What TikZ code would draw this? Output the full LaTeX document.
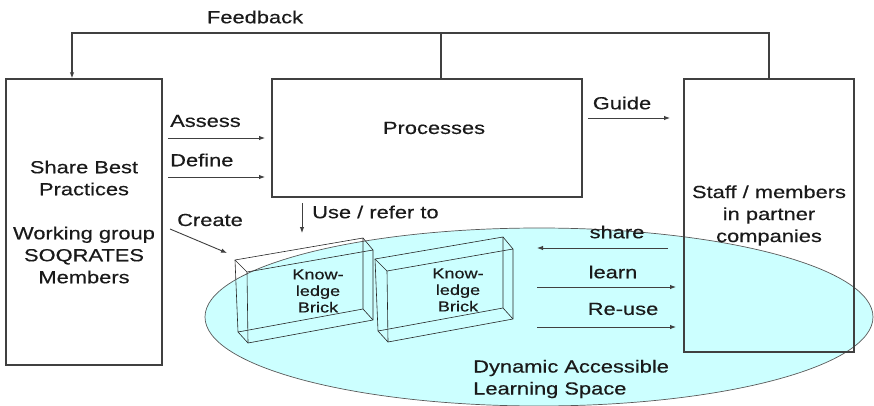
\documentclass[tikz,border=0pt]{standalone}
\usepackage{fontspec}
\setmainfont{Liberation Sans}[FakeStretch=1.25,FakeBold=0.4]
\usetikzlibrary{arrows.meta,shapes.geometric,calc}
\definecolor{spacefill}{HTML}{CCFFFF}
\definecolor{linegray}{HTML}{404040}
\definecolor{txt}{HTML}{1A1A1A}
\begin{document}
\begin{tikzpicture}[x=1pt,y=-1pt,
  box/.style={draw=linegray,line width=1.4pt,rectangle,inner sep=0pt,text=txt,align=center,
    font=\fontsize{17.5}{22}\selectfont},
  lbl/.style={inner sep=0pt,text=txt,font=\fontsize{17.5}{22}\selectfont,align=center},
  bricktxt/.style={inner sep=0pt,text=txt,font=\fontsize{14.5}{16.5}\selectfont,align=center},
  arr/.style={draw=linegray,line width=0.9pt,-{Latex[length=6pt,width=4.5pt]}},
  fbline/.style={draw=linegray,line width=1.1pt},
  brickline/.style={draw=gray!30!black,line width=0.6pt,line join=round}]
\useasboundingbox (0,0) rectangle (874,406);
% learning space
\node[ellipse,draw=gray!70!black,line width=0.7pt,fill=spacefill,minimum width=668,minimum height=178,inner sep=0pt] (space) at (539,317) {};
\node[lbl,align=left,anchor=west] (spacetxt) at (473,379) {Dynamic Accessible\\Learning Space};
% bricks
\foreach \dx/\dy/\nm in {0/0/brickA,140/-1/brickB}{
  \begin{scope}[shift={(\dx,\dy)}]
    \draw[brickline] (235,260) -- (363,238) -- (363,309) -- (238,332) -- cycle;
    \draw[brickline] (247,272) -- (373,250) -- (373,320) -- (248,343) -- cycle;
    \draw[brickline] (235,260) -- (247,272) (363,238) -- (373,250)
                     (363,309) -- (373,320) (238,332) -- (248,343);
    \node[bricktxt] (\nm) at (318,291) {Know-\\ledge\\Brick};
  \end{scope}
}
% boxes
\node[box,minimum width=156,minimum height=286] (left) at (84,222)
  {Share Best\\Practices\\[22pt]Working group\\SOQRATES\\Members};
\node[box,minimum width=310,minimum height=118] (proc) at (427,138) {};
\node[lbl] (proctxt) at (434,128) {Processes};
\node[box,minimum width=170,minimum height=273] (right) at (769,215.5)
  {Staff / members\\in partner\\companies};
% feedback
\coordinate (fbR) at (769,33);
\coordinate (fbL) at (72,33);
\coordinate (fbM) at (441,33);
\draw[fbline,-{Latex[length=6pt,width=4.5pt]}] (right.north) -- (fbR) -- (fbL) -- (fbL |- left.north);
\draw[fbline] (fbM) -- (fbM |- proc.north);
\node[lbl] (fbtxt) at (255,17) {Feedback};
% assess / define
\coordinate (asA) at (168,138); \coordinate (asB) at (265,138);
\coordinate (dfA) at (168,177); \coordinate (dfB) at (265,177);
\draw[arr] (asA) -- (asB);
\draw[arr] (dfA) -- (dfB);
\node[lbl,anchor=west] (astxt) at (170,121) {Assess};
\node[lbl,anchor=west] (dftxt) at (170,160) {Define};
% guide
\coordinate (gdA) at (588,118); \coordinate (gdB) at (670,118);
\draw[arr] (gdA) -- (gdB);
\node[lbl] (gdtxt) at (622,103) {Guide};
% use / refer to
\coordinate (usA) at (302,203); \coordinate (usB) at (302,233);
\draw[arr] (usA) -- (usB);
\node[lbl,anchor=west] (ustxt) at (312,212) {Use / refer to};
% create
\coordinate (crA) at (170,229); \coordinate (crB) at (227,253);
\draw[arr] (crA) -- (crB);
\node[lbl] (crtxt) at (210,220) {Create};
% share / learn / re-use
\coordinate (shA) at (668,248); \coordinate (shB) at (537,248);
\coordinate (lnA) at (537,287); \coordinate (lnB) at (676,287);
\coordinate (ruA) at (537,327); \coordinate (ruB) at (676,327);
\draw[arr] (shA) -- (shB);
\draw[arr] (lnA) -- (lnB);
\draw[arr] (ruA) -- (ruB);
\node[lbl] (shtxt) at (617,232) {share};
\node[lbl] (lntxt) at (613,272) {learn};
\node[lbl] (rutxt) at (623,309) {Re-use};
\end{tikzpicture}
\end{document}
